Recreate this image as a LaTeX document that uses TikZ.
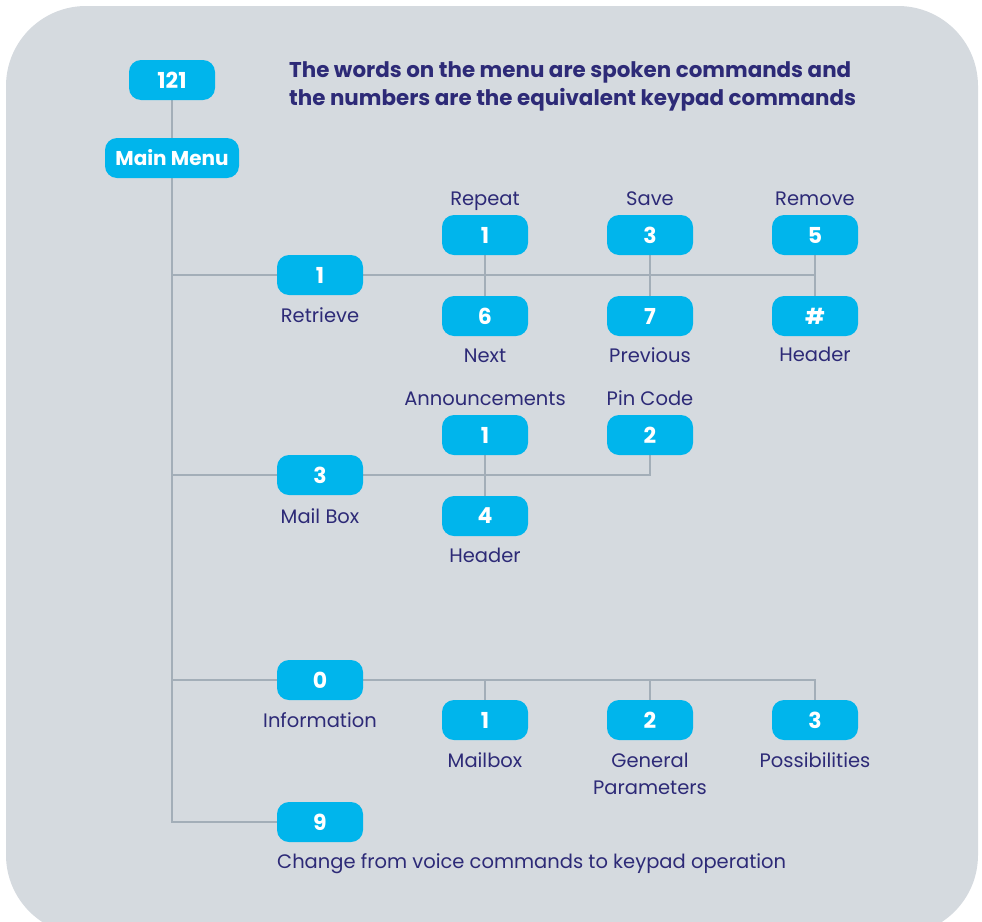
\documentclass[tikz,border=0pt]{standalone}
\usepackage{fontspec}
\setmainfont{Poppins}
\usetikzlibrary{backgrounds}
\definecolor{bgc}{HTML}{D5DADF}
\definecolor{boxc}{HTML}{00B5EC}
\definecolor{navy}{HTML}{2D2A77}
\definecolor{linec}{HTML}{A3AEB8}
\tikzset{
  kbox/.style={fill=boxc, rounded corners=12pt, minimum width=86pt, minimum height=40pt, inner sep=0pt, text=white, font=\fontsize{22}{24}\selectfont\bfseries},
  lbl/.style={text=navy, font=\fontsize{19.5}{27}\selectfont, inner sep=0pt, anchor=base},
  conn/.style={draw=linec, line width=2.5pt},
}
\begin{document}
\begin{tikzpicture}[x=1pt,y=-1pt]
\useasboundingbox (0,0) rectangle (982,921);
% boxes
\node[kbox] (n121) at (172,80) {121};
\node[kbox, minimum width=134pt, font=\fontsize{20}{24}\selectfont\bfseries] (mm) at (172,158) {Main Menu};
\node[text=navy, font=\fontsize{21.4}{28}\selectfont\bfseries, anchor=base west, inner sep=0pt] (title1) at (289,77) {The words on the menu are spoken commands and};
\node[text=navy, font=\fontsize{21.4}{28}\selectfont\bfseries, anchor=base west, inner sep=0pt] (title2) at (289,105) {the numbers are the equivalent keypad commands};
% retrieve
\node[kbox] (r) at (320,275) {1};
\node[kbox] (rep) at (485,235) {1};
\node[kbox] (nxt) at (485,316) {6};
\node[kbox] (sav) at (650,235) {3};
\node[kbox] (prv) at (650,316) {7};
\node[kbox] (rem) at (815,235) {5};
\node[kbox] (hdr) at (815,316) {\#};
\node[lbl] (lr) at (320,322) {Retrieve};
\node[lbl] (lrep) at (485,205) {Repeat};
\node[lbl] (lnxt) at (485,362) {Next};
\node[lbl] (lsav) at (650,205) {Save};
\node[lbl] (lprv) at (650,362) {Previous};
\node[lbl] (lrem) at (815,205) {Remove};
\node[lbl] (lhdr) at (815,361) {Header};
% mailbox
\node[kbox] (m) at (320,475) {3};
\node[kbox] (ann) at (485,435) {1};
\node[kbox] (pin) at (650,435) {2};
\node[kbox] (mh) at (485,516) {4};
\node[lbl] (lm) at (320,523) {Mail Box};
\node[lbl] (lann) at (485,405) {Announcements};
\node[lbl] (lpin) at (650,405) {Pin Code};
\node[lbl] (lmh) at (485,562) {Header};
% information
\node[kbox] (i) at (320,680) {0};
\node[kbox] (im) at (485,720) {1};
\node[kbox] (ig) at (650,720) {2};
\node[kbox] (ip) at (815,720) {3};
\node[lbl] (li) at (320,727) {Information};
\node[lbl] (lim) at (485,767) {Mailbox};
\node[lbl] (lig1) at (650,767) {General};
\node[lbl] (lig2) at (650,794) {Parameters};
\node[lbl] (lip) at (815,767) {Possibilities};
% nine
\node[kbox] (nine) at (320,822) {9};
\node[lbl, anchor=base west] (lnine) at (277,868) {Change from voice commands to keypad operation};
% connectors
\coordinate (t1) at (172,275);
\coordinate (t3) at (172,475);
\coordinate (t0) at (172,680);
\coordinate (t9) at (172,822);
\coordinate (j5) at (815,275);
\coordinate (mp) at (650,475);
\coordinate (ij1) at (485,680);
\coordinate (ij2) at (650,680);
\coordinate (ij3) at (815,680);
\begin{scope}[on background layer]
\fill[bgc, rounded corners=80pt] (6,6) rectangle (978,935);
\draw[conn] (n121.south) -- (mm.north);
\draw[conn] (mm.south) -- (t9) -- (nine.west);
\draw[conn] (t1) -- (j5);
\draw[conn] (rep) -- (nxt);
\draw[conn] (sav) -- (prv);
\draw[conn] (rem) -- (hdr);
\draw[conn] (t3) -- (mp) -- (pin);
\draw[conn] (ann) -- (mh);
\draw[conn] (t0) -- (ij3) -- (ip);
\draw[conn] (ij1) -- (im);
\draw[conn] (ij2) -- (ig);
\end{scope}
\end{tikzpicture}
\end{document}
